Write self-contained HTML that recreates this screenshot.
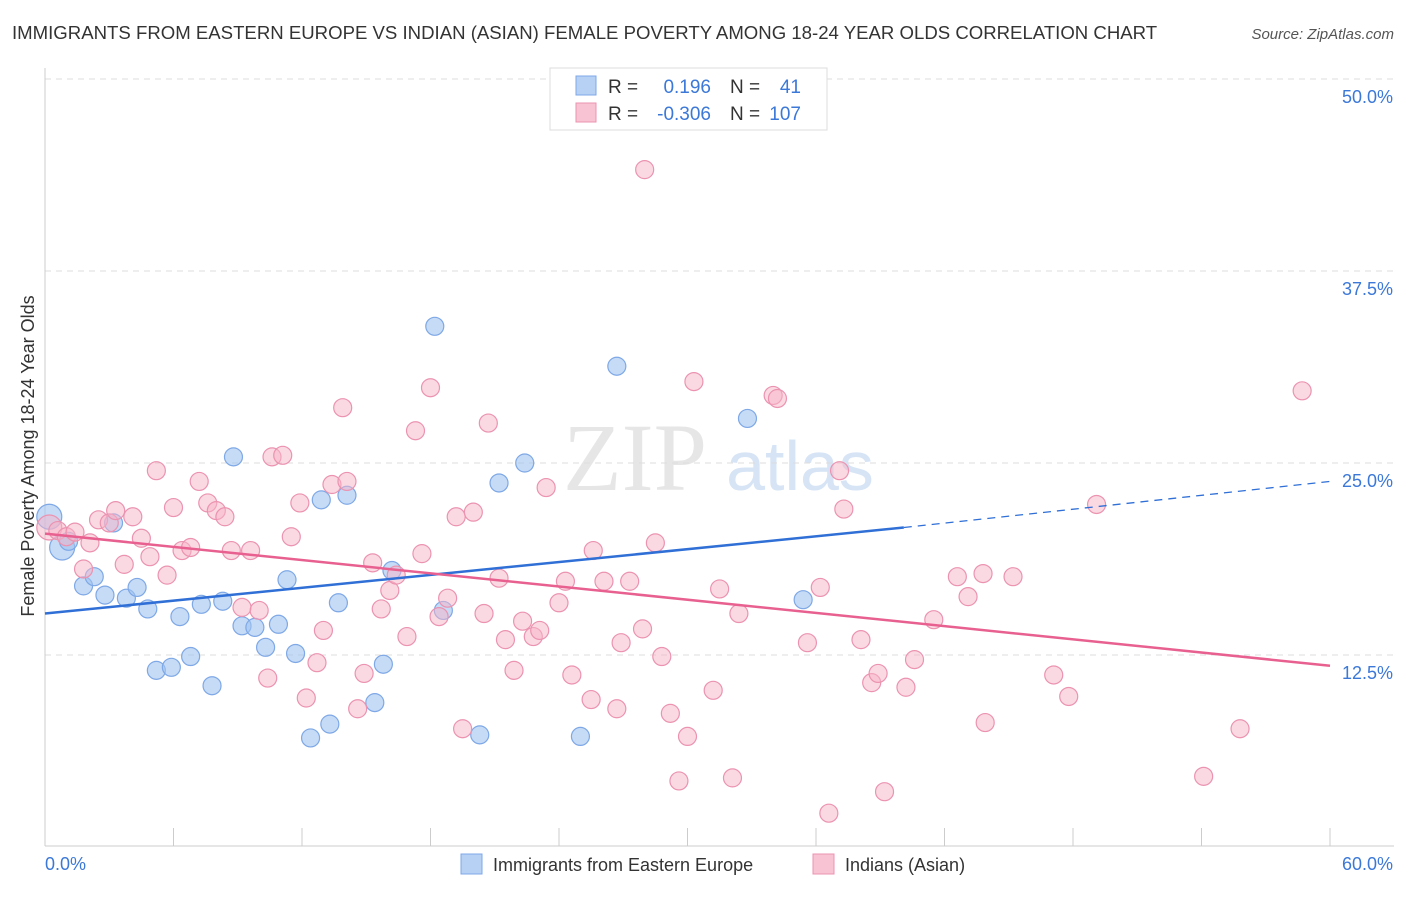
<!DOCTYPE html>
<html><head><meta charset="utf-8"><style>
body{margin:0;background:#fff;font-family:"Liberation Sans",sans-serif;}
</style></head><body>
<svg id="chart" width="1406" height="892" xmlns="http://www.w3.org/2000/svg" style="font-family:'Liberation Sans',sans-serif">
<text x="12" y="39" font-size="18.6" fill="#333">IMMIGRANTS FROM EASTERN EUROPE VS INDIAN (ASIAN) FEMALE POVERTY AMONG 18-24 YEAR OLDS CORRELATION CHART</text>
<text x="1394" y="39" font-size="15" fill="#555" text-anchor="end" font-style="italic">Source: ZipAtlas.com</text>
<text x="635" y="490" font-size="96" fill="#e6e6e6" text-anchor="middle" font-family="Liberation Serif">ZIP</text>
<text x="800" y="490" font-size="70" fill="#d6e4f5" text-anchor="middle">atlas</text>
<g id="grid"></g><g id="ticks"></g>
<line x1="45" y1="68" x2="45" y2="846" stroke="#ccc"/>
<line x1="45" y1="846" x2="1394" y2="846" stroke="#ccc"/>
<text x="34" y="456" font-size="18" fill="#333" text-anchor="middle" transform="rotate(-90 34 456)">Female Poverty Among 18-24 Year Olds</text>
<text x="45" y="870" font-size="18" fill="#3b78d8">0.0%</text>
<text x="1393" y="870" font-size="18" fill="#3b78d8" text-anchor="end">60.0%</text>
<g id="pts"></g><g id="lines"></g>
<g>
<rect x="550" y="68" width="277" height="62" fill="#fff" stroke="#ddd"/>
<rect x="576" y="76" width="20" height="19" fill="#b7d1f5" stroke="#7ea8e6"/>
<rect x="576" y="103" width="20" height="19" fill="#f8c4d3" stroke="#eb93b0"/>
<text x="608" y="93" font-size="19" fill="#333">R =</text><text x="711" y="93" font-size="19" fill="#3b78d8" text-anchor="end">0.196</text>
<text x="730" y="93" font-size="19" fill="#333">N =</text><text x="801" y="93" font-size="19" fill="#3b78d8" text-anchor="end">41</text>
<text x="608" y="120" font-size="19" fill="#333">R =</text><text x="711" y="120" font-size="19" fill="#3b78d8" text-anchor="end">-0.306</text>
<text x="730" y="120" font-size="19" fill="#333">N =</text><text x="801" y="120" font-size="19" fill="#3b78d8" text-anchor="end">107</text>
</g>
<rect x="461" y="854" width="21" height="20" fill="#b7d1f5" stroke="#7ea8e6"/>
<text x="493" y="871" font-size="18" fill="#333">Immigrants from Eastern Europe</text>
<rect x="813" y="854" width="21" height="20" fill="#f8c4d3" stroke="#eb93b0"/>
<text x="845" y="871" font-size="18" fill="#333">Indians (Asian)</text>
</svg>
<script>
const yTicks=[12.5,25,37.5,50];
const yTickLabels=["12.5%","25.0%","37.5%","50.0%"];
const xTicks=[0,6,12,18,24,30,36,42,48,54,60];
const blueX=[0.2,0.8,1.1,1.8,2.3,2.8,3.2,3.8,4.3,4.8,5.2,5.9,6.3,6.8,7.3,7.8,8.3,8.8,9.2,9.8,10.3,10.9,11.3,11.7,12.4,12.9,13.3,13.7,14.1,15.4,15.8,16.2,18.2,18.6,20.3,21.2,22.4,25.0,26.7,32.8,35.4];
const blueY=[21.5,19.5,19.9,17.0,17.6,16.4,21.1,16.2,16.9,15.5,11.5,11.7,15.0,12.4,15.8,10.5,16.0,25.4,14.4,14.3,13.0,14.5,17.4,12.6,7.1,22.6,8.0,15.9,22.9,9.4,11.9,18.0,33.9,15.4,7.3,23.7,25.0,7.2,31.3,27.9,16.1];
const pinkX=[0.2,0.6,1.0,1.4,1.8,2.1,2.5,3.0,3.3,3.7,4.1,4.5,4.9,5.2,5.7,6.0,6.4,6.8,7.2,7.6,8.0,8.4,8.7,9.2,9.6,10.0,10.4,10.6,11.1,11.5,11.9,12.2,12.7,13.0,13.4,13.9,14.1,14.6,14.9,15.3,15.7,16.1,16.4,16.9,17.3,17.6,18.0,18.4,18.8,19.2,19.5,20.0,20.5,20.7,21.2,21.5,21.9,22.3,22.8,23.1,23.4,24.0,24.3,24.6,25.5,25.6,26.1,26.7,26.9,27.3,27.9,28.0,28.5,28.8,29.2,29.6,30.0,30.3,31.2,31.5,32.1,32.4,34.0,34.2,35.6,36.2,36.6,37.1,37.3,38.1,38.6,38.9,39.2,40.2,40.6,41.5,42.6,43.1,43.8,43.9,45.2,47.1,47.8,49.1,54.1,55.8,58.7];
const pinkY=[20.8,20.6,20.2,20.5,18.1,19.8,21.3,21.1,21.9,18.4,21.5,20.1,18.9,24.5,17.7,22.1,19.3,19.5,23.8,22.4,21.9,21.5,19.3,15.6,19.3,15.4,11.0,25.4,25.5,20.2,22.4,9.7,12.0,14.1,23.6,28.6,23.8,9.0,11.3,18.5,15.5,16.7,17.7,13.7,27.1,19.1,29.9,15.0,16.2,21.5,7.7,21.8,15.2,27.6,17.5,13.5,11.5,14.7,13.7,14.1,23.4,15.9,17.3,11.2,9.6,19.3,17.3,9.0,13.3,17.3,14.2,44.1,19.8,12.4,8.7,4.3,7.2,30.3,10.2,16.8,4.5,15.2,29.4,29.2,13.3,16.9,2.2,24.5,22.0,13.5,10.7,11.3,3.6,10.4,12.2,14.8,17.6,16.3,17.8,8.1,17.6,11.2,9.8,22.3,4.6,7.7,29.7];
const blueTrend=[15.2,20.8,23.8]; const blueTrendX=[0,40.1,60];
const pinkTrend=[20.4,11.8]; const pinkTrendX=[0,60];
const NS="http://www.w3.org/2000/svg";
const sx=v=>45+v/60*1285, sy=v=>847-v/50*768;
function mk(t,a,p){const e=document.createElementNS(NS,t);for(const k in a)e.setAttribute(k,a[k]);document.getElementById(p).appendChild(e);return e;}
yTicks.forEach((t,i)=>{
 const l=mk('line',{x1:45,x2:1394,y1:sy(t),y2:sy(t),stroke:'#ddd','stroke-dasharray':'6,5'},'grid');
 
 
 const tx=mk('text',{x:1393,y:sy(t)+24,'font-size':18,fill:'#3b78d8','text-anchor':'end'},'grid');tx.textContent=yTickLabels[i];
 
 
});
xTicks.forEach(t=>{const l=mk('line',{x1:sx(t),x2:sx(t),y1:828,y2:846,stroke:'#ccc'},'ticks');
 
 });
function pts(X,Y,fill,stroke,name,big){X.forEach((x,i)=>{const r=(i<big)?12.5:9;
 const c=mk('circle',{cx:sx(x),cy:sy(Y[i]),r:r,fill:fill,stroke:stroke,'stroke-width':1.2},'pts');
 
 });}
pts(blueX,blueY,'rgba(160,195,240,0.6)','#7ea8e6','blue-point',2);
pts(pinkX,pinkY,'rgba(248,180,200,0.5)','#eb93b0','pink-point',1);
let b1=mk('line',{x1:sx(blueTrendX[0]),y1:sy(blueTrend[0]),x2:sx(blueTrendX[1]),y2:sy(blueTrend[1]),stroke:'#2f6fd6','stroke-width':2.5},'lines');


let b2=mk('line',{x1:sx(blueTrendX[1]),y1:sy(blueTrend[1]),x2:sx(blueTrendX[2]),y2:sy(blueTrend[2]),stroke:'#2f6fd6','stroke-width':1.3,'stroke-dasharray':'8,6'},'lines');


let p1=mk('line',{x1:sx(pinkTrendX[0]),y1:sy(pinkTrend[0]),x2:sx(pinkTrendX[1]),y2:sy(pinkTrend[1]),stroke:'#e8608f','stroke-width':2.5},'lines');


</script>
</body></html>
